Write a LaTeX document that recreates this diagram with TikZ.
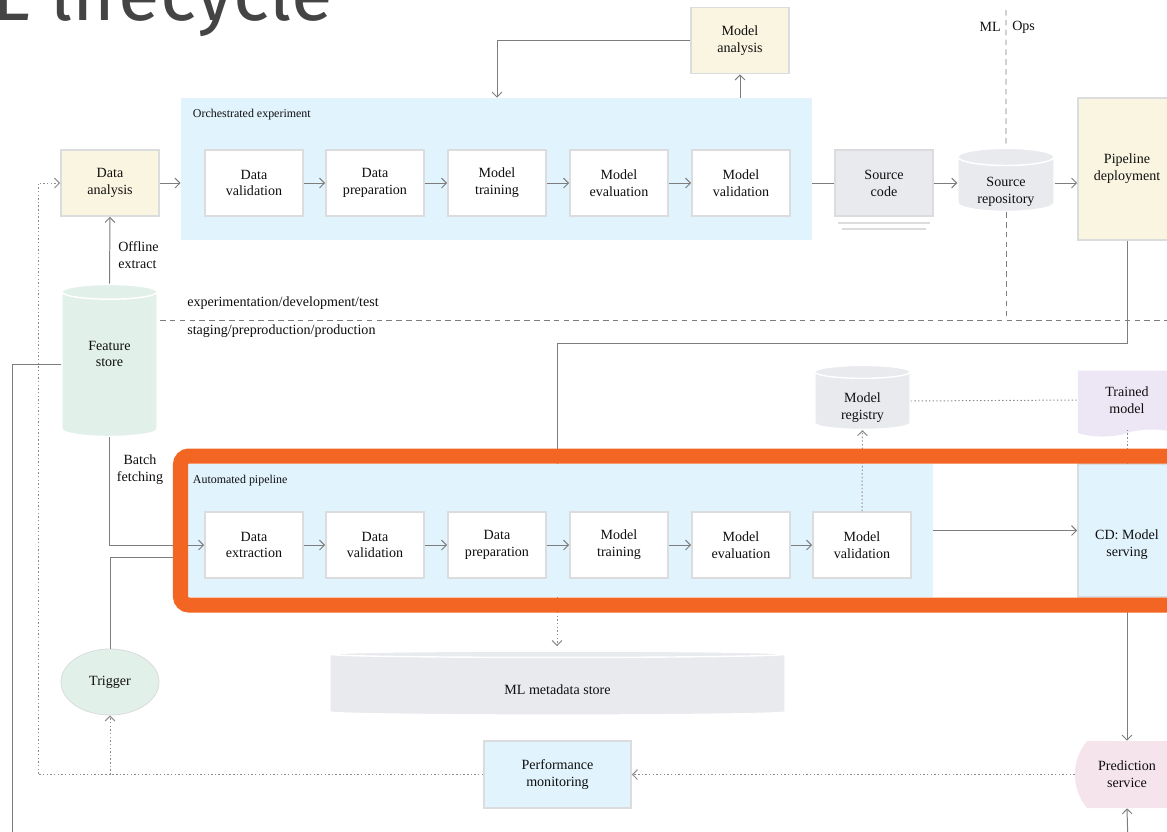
\documentclass[tikz,border=0pt]{standalone}
\usepackage{fontspec}
\setmainfont{Liberation Serif}
\newfontfamily\titlefont{Fira Sans}
\usetikzlibrary{arrows.meta,shapes.geometric,shapes.symbols,shapes.misc}

\definecolor{cream}{RGB}{250,245,225}
\definecolor{paleblue}{RGB}{225,243,252}
\definecolor{palegreen}{RGB}{226,240,234}
\definecolor{palegrey}{RGB}{232,234,237}
\definecolor{lavender}{RGB}{236,230,245}
\definecolor{palepink}{RGB}{246,228,237}
\definecolor{rimgrey}{RGB}{218,220,222}
\definecolor{wiregrey}{RGB}{125,125,125}
\definecolor{dotgrey}{RGB}{140,140,140}
\definecolor{frameorange}{RGB}{242,101,34}
\definecolor{inkgrey}{RGB}{15,15,15}
\definecolor{titlegrey}{RGB}{68,68,68}

\newcommand{\sunk}[2]{\raisebox{#1}[\height][\depth]{#2}}

\begin{document}
\begin{tikzpicture}[
       x=0.025cm, y=-0.025cm,
       >={Straight Barb[length=3.5pt,width=7pt]},
       every node/.style={text=inkgrey, font=\fontsize{10}{12}\selectfont},
       stage/.style={
         rectangle,
         draw=rimgrey,
         line width=1.2pt,
         fill=white,
         align=center,
         inner sep=0pt,
         minimum width=2.45cm,
         minimum height=1.65cm
       },
       note/.style={stage, fill=cream},
       panel/.style={rectangle, fill=paleblue, inner sep=0pt},
       caption/.style={
         font=\fontsize{8.5}{10}\selectfont,
         inner sep=0pt,
         anchor=north west
       },
       store/.style={
         cylinder,
         shape border rotate=90,
         fill=palegrey,
         draw=white,
         line width=1pt,
         align=center,
         inner sep=0pt
       },
       wire/.style={draw=wiregrey, line width=0.7pt},
       flow/.style={wire, ->},
       dots/.style={draw=dotgrey, line width=0.7pt, dash pattern=on 1pt off 1.6pt},
       split/.style={draw=wiregrey, line width=0.7pt, dash pattern=on 4pt off 3pt},
       tag/.style={inner sep=0pt, align=left}
     ]

       \useasboundingbox (0,0) rectangle (1167,831);

       \node (title) at (-8,20) [anchor=base west, inner sep=0pt, text=titlegrey,
             font=\titlefont\fontsize{54}{60}\selectfont] {L lifecycle};

       % experiment part
       \node (orch) at (496.5,169) [panel, minimum width=15.775cm, minimum height=3.55cm,
             label={[caption, xshift=0.3cm, yshift=-0.27cm]north west:Orchestrated experiment}] {};
       \node (dana) at (110,183) [note] {Data\\analysis};
       \node (dval1) at (254,183) [stage] {Data\\validation};
       \node (dprep1) at (375,183) [stage] {Data\\preparation};
       \node (mtrain1) at (497,183) [stage] {Model\\training};
       \node (meval1) at (619,183) [stage] {Model\\evaluation};
       \node (mval1) at (741,183) [stage] {Model\\validation};
       \node (manal) at (740,40.5) [note] {Model\\analysis};
       \node (srccode) at (884,183) [stage, fill=palegrey] {Source\\code};
       \node (srcrepo) at (1006,184.5) [store, minimum width=2.4cm, minimum height=1.575cm, aspect=0.3]
             {\sunk{-5pt}{Source}\\\sunk{-5pt}{repository}};
       \node (pipedep) at (1127,169) [note, minimum height=3.55cm] {Pipeline\\deployment};
       \node (featstore) at (109.5,364.5) [store, fill=palegreen, minimum width=2.375cm, minimum height=3.8cm, aspect=0.35]
             {\sunk{7.5pt}{Feature}\\\sunk{7.5pt}{store}};

       \draw (838,223) [draw=rimgrey, line width=1pt] -- (930,223);
       \draw (842,229) [draw=rimgrey, line width=1pt] -- (926,229);

       \draw[flow] (dana.east) -- (dana.east -| orch.west);
       \draw[flow] (dval1) -- (dprep1);
       \draw[flow] (dprep1) -- (mtrain1);
       \draw[flow] (mtrain1) -- (meval1);
       \draw[flow] (meval1) -- (mval1);
       \draw[wire] (srccode.west -| orch.east) -- (srccode.west);
       \draw[flow] (srccode.east) -- (srccode.east -| srcrepo.west);
       \draw[flow] (srccode.east -| srcrepo.east) -- (srccode.east -| pipedep.west);
       \draw[flow] (manal |- orch.north) -- (manal.south);
       \draw[flow] (manal.west) -| (mtrain1 |- orch.north);
       \draw[flow] (featstore.north) -- (dana.south);
       \node (offline) at (118,255) [tag, anchor=west] {Offline\\extract};

       % environments
       \coordinate (mlopstop) at (1006,10);
       \coordinate (mlopsend) at (1006,320);
       \coordinate (envleft) at (160,320);
       \coordinate (envright) at (1180,320);
       \draw[split] (mlopstop) -- (srcrepo.north);
       \draw[split] (srcrepo.south) -- (mlopsend);
       \draw[split] (envleft) -- (envright);
       \node (ml) at (1001,27) [inner sep=0pt, anchor=east] {ML};
       \node (ops) at (1012,27) [inner sep=0pt, anchor=west] {Ops};
       \node (devenv) at (187,303) [inner sep=0pt, anchor=west] {experimentation/development/test};
       \node (prodenv) at (187,331) [inner sep=0pt, anchor=west] {staging/preproduction/production};

       % automated part
       \node (auto) at (560.5,530.5) [panel, minimum width=18.625cm, minimum height=3.325cm,
             label={[caption, xshift=0.125cm, yshift=-0.27cm]north west:Automated pipeline}] {};
       \node (dext) at (254,545) [stage] {Data\\extraction};
       \node (dval2) at (375,545) [stage] {Data\\validation};
       \node (dprep2) at (497,545) [stage] {Data\\preparation};
       \node (mtrain2) at (619,545) [stage] {Model\\training};
       \node (meval2) at (741,545) [stage] {Model\\evaluation};
       \node (mval2) at (862,545) [stage] {Model\\validation};
       \node (cdserve) at (1127,530.5) [stage, fill=paleblue, minimum height=3.325cm]
             {\sunk{-10pt}{CD: Model}\\\sunk{-10pt}{serving}};
       \node (mreg) at (862.5,401) [store, minimum width=2.375cm, minimum height=1.6cm, aspect=0.3]
             {\sunk{-5pt}{Model}\\\sunk{-5pt}{registry}};
       \node (trained) at (1127,400) [tape, tape bend top=none, fill=lavender, align=center, inner sep=0pt,
             minimum width=2.45cm, minimum height=1.65cm] {Trained\\model};
       \node (mdstore) at (557.5,685) [store, minimum width=11.375cm, minimum height=1.6cm, aspect=0.06]
             {\sunk{-3pt}{ML metadata store}};
       \node (trigger) at (110,682) [ellipse, fill=palegreen, draw=rimgrey, line width=0.6pt,
             minimum width=2.45cm, minimum height=1.65cm, inner sep=0pt] {Trigger};
       \node (perfmon) at (557.5,774.5) [stage, fill=paleblue, minimum width=3.675cm, minimum height=1.675cm] {Performance\\monitoring};
       \node (predserv) at (1127,774.5) [rounded rectangle, rounded rectangle arc length=80, fill=palepink,
             align=center, inner sep=0pt, minimum width=2.45cm, minimum height=1.675cm] {Prediction\\service};

       \coordinate (trigin) at (188,557);
       \coordinate (pipebend) at (557,343);
       \coordinate (loopcorner) at (38,183);
       \coordinate (fsout) at (12,845);
       \coordinate (predin) at (1128,845);

       \draw[flow] (dext) -- (dval2);
       \draw[flow] (dval2) -- (dprep2);
       \draw[flow] (dprep2) -- (mtrain2);
       \draw[flow] (mtrain2) -- (meval2);
       \draw[flow] (meval2) -- (mval2);
       \draw[flow] (featstore.south) |- (dext.west);
       \node (batch) at (140,470) [align=center, inner sep=0pt] {Batch\\fetching};
       \draw[wire] (trigger.north) |- (trigin);
       \draw[wire] (featstore.west) -| (fsout);
       \draw[wire] (pipedep.south) |- (pipebend) -- (pipebend |- auto.north);
       \draw[dots, ->] (mval2.north) -- (mreg.south);
       \draw[dots] (mreg.east) -- (trained.west);
       \draw[dots] (trained.south) -- (trained.south |- auto.north);
       \draw[flow] (auto.east) -- (auto.east -| cdserve.west);
       \draw[dots, ->, shorten >=3pt] (pipebend |- auto.south) -- (pipebend |- mdstore.north);
       \draw[flow] (cdserve.south) -- (predserv.north);
       \draw[flow] (predin) -- (predserv.south);
       \draw[dots, ->] (predserv.west) -- (perfmon.east);
       \draw[dots, ->] (perfmon.west) -| (loopcorner) -- (dana.west);
       \draw[dots, ->] (perfmon.west -| trigger.south) -- (trigger.south);

       \draw[frameorange, line width=0.375cm, rounded corners=6pt] (180.5,456) rectangle (1200,605);

\end{tikzpicture}
\end{document}
